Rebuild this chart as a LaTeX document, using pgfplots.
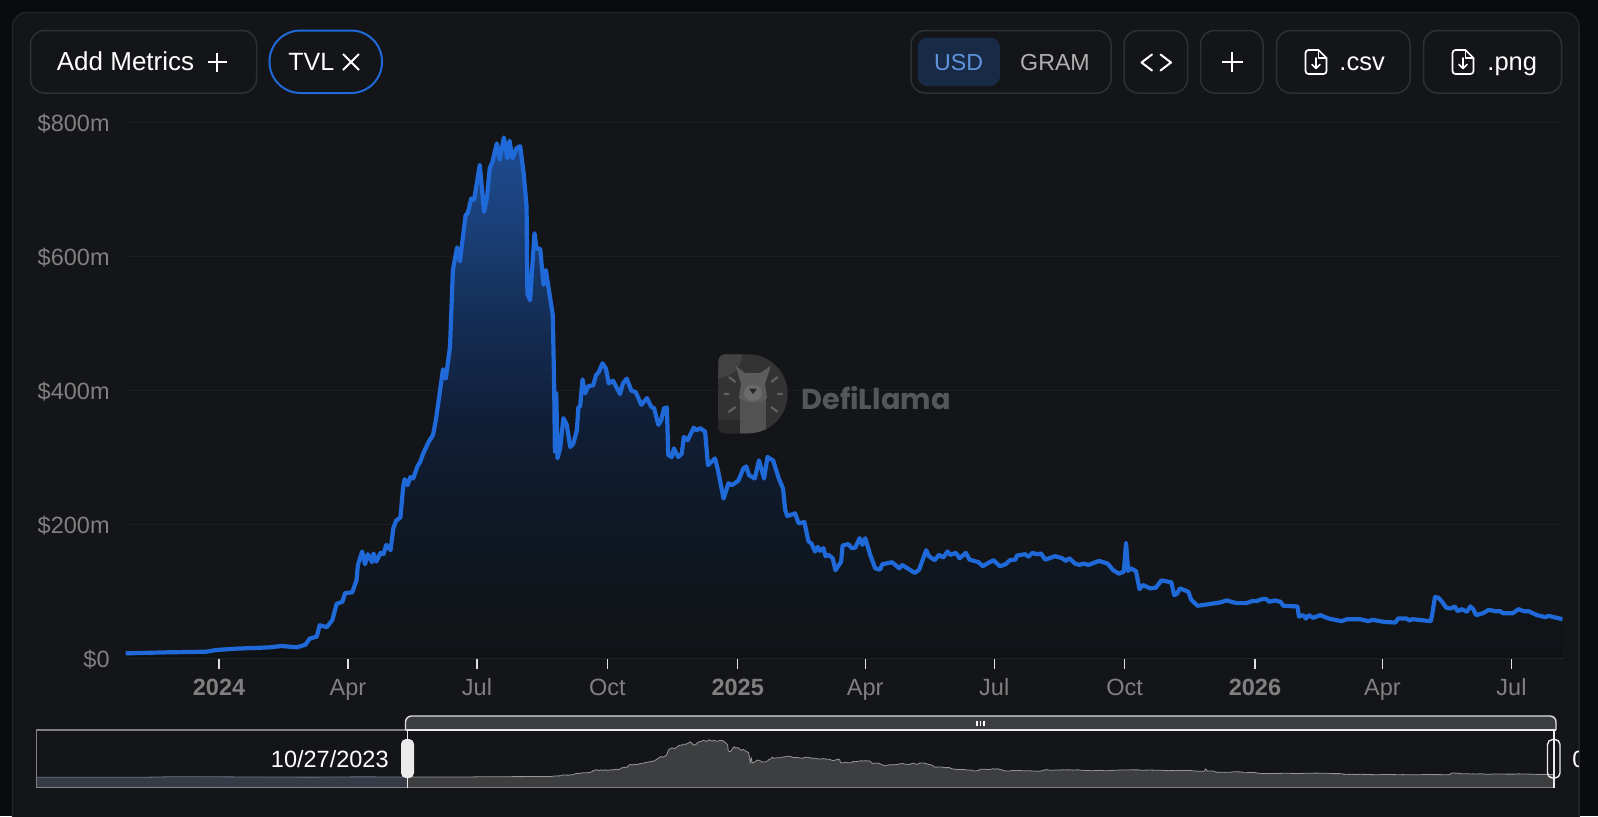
\documentclass[border=0pt]{standalone}
\usepackage{fontspec}
\setmainfont{Liberation Sans}
\newfontfamily\logofont{Poppins}
\usepackage{pgfplots}
\usepackage{pgfplotstable}
\pgfplotsset{compat=1.18}

\definecolor{outerbg}{HTML}{0A0B0E}
\definecolor{cardbg}{HTML}{141518}
\definecolor{cardedge}{HTML}{222326}
\definecolor{btnedge}{HTML}{2F3033}
\definecolor{tvlblue}{HTML}{1F69D8}
\definecolor{gridc}{HTML}{1C1D20}
\definecolor{axisc}{HTML}{3C3D40}
\definecolor{labelc}{HTML}{808080}
\definecolor{usdfill}{HTML}{182A45}
\definecolor{usdtext}{HTML}{5F95DD}
\definecolor{gramtext}{HTML}{B0B0B0}
\definecolor{logotext}{HTML}{555658}
\definecolor{slidepre}{HTML}{363B45}
\definecolor{slidepreline}{HTML}{6C768C}
\definecolor{slidefill}{HTML}{3D3E40}
\definecolor{slideline}{HTML}{969696}
\definecolor{slidebar}{HTML}{3C3D40}

\definecolor{f0}{HTML}{1D4C92}
\definecolor{f1}{HTML}{1A4079}
\definecolor{f2}{HTML}{142D55}
\definecolor{f3}{HTML}{101F37}
\definecolor{f4}{HTML}{0F1928}
\definecolor{f5}{HTML}{101418}
\definecolor{f6}{HTML}{101316}
\pgfdeclareverticalshading{tvlfade}{100bp}{color(0bp)=(f6); color(25bp)=(f6); color(28.75bp)=(f5); color(40bp)=(f4); color(48bp)=(f3); color(57.5bp)=(f2); color(67bp)=(f1); color(75bp)=(f0); color(100bp)=(f0)}

% d = days since 1 Jan 2024, v = TVL in $m
\pgfplotstableread{
d v
-66 8
-37 9.5
-9 10.5
-2 13
12 15
24 16
36 17
44 19
55 17
61 21
64 30
69 33
71 50
76 47
80 58
83 82
87 85
89 98
94 99
97 117
98 140
101 160
103 141
105 156
108 144
109 157
111 145
114 158
116 156
118 170
121 162
123 195
125 206
128 211
130 258
131 268
133 259
135 271
137 269
140 287
142 294
144 306
148 324
151 334
153 356
157 416
158 432
160 418
163 466
165 580
168 614
170 593
174 662
175.5 665
178 687
180 685
184 737
187 667
189 687
191 732
193 742
196 769
198 745
201 778
203.5 747
205 773
207 747
210 762
212.5 765
215 724
217 675
217.6 545
219.5 535
222.6 635
224 612
226.6 612
229 558
230.6 580
235.5 513
236.5 406
237 309
238 396
238.8 299
240.7 314
243 359
245.4 349
247.8 316
250 321
252.5 341
253.6 376
254.8 376
256.5 417
258.3 396
260.7 407
264 408
266 423
268 428
270.6 441
273 433
275 411
278 415
280 407
283 395
285 411
287.7 418
291 400
294 398
298 379
302 389
305 376
307 374
310 349
312 356
314 374
316 375
317 304
319.5 301
321 314
324 301
326.5 306
328 331
330.6 326
335 345
337 341
339.5 344
343 339
345 289
350 299
352 282
356 239
359.5 262
362 259
366.5 266
370 284
372 287
374 274
378 269
381 296
384.6 269
387 301
391 296
395 269
398 254
399.5 222
401 213
406.5 217
409 202
413 204
416 175
418 172
420.6 160
422.5 167
424 161
426.5 165
428 153
430 155
433 150
435 132
439 145
440 169
444 171
446.5 165
449 166
452 180
454 170
456 180
459.5 155
463 135
466.5 133
468 141
475 144
480 135
482 140
491 128
494 133
499 162
501 153
505 147
508 155
511 151
514 160
516 155
520 158
522.5 150
527 158
529.5 148
536 144
539 138
542 142
546.5 147
551 138
555 141
558 147
562 148
563 154
569 156
571 152
574 158
577 156
580 157
583 148
590 153
595 150
597.5 146
600 150
604 142
607 140
610 142
613.5 140
621 146
627 142
631 132
635 127
638.5 130
640 173
641.5 131
643 135
647 131
649.5 104
652 110
657 105
661 106
665 117
672 114
674 95
676 97
678 105
684 100
686 88
690.5 79
697 81
706.5 84
711 87
718 83
725 83
729 86
732 86
736 89
739 89
741 85
745 87
749 85
751 79
761 78
762 63
765 65
767 60
769 65
772 61
777 65
783 60
792 56
796 59
805 59
811 56
814 58
822 55
830 54
832 60
838 60
840 57
842 59
855 56
856 65
858 92
860.5 91
863 85
866 76
869 75
872 78
874 71
877 74
880.5 70
883 78
885 74
887 65
892 68
896 73
900.5 71
904 71
906 68
913 68
917 74
920.5 71
924 71
930 65
936 62
938 64
948 59
}\tvl

% stretch left of the zoom window, only seen in the slider
\pgfplotstableread{
d v
-394 2
-340 3
-300 3.5
-270 16
-200 9
-150 6
-110 12
-80 10
-66 8
}\before

\newcommand{\btn}[4]{\draw[btnedge,line width=.75pt,rounded corners=7pt] (#1,#2) rectangle (#3,#4);}
\newcommand{\fileicon}[1]{%
  \begin{scope}[shift={(#1,0)},white,line width=.85pt,line join=round,line cap=round]
    \draw (0,62) -- (0,53) arc[start angle=180,end angle=270,radius=3] -- (13,50) -- (21,58) -- (21,71) arc[start angle=0,end angle=90,radius=3] -- (3,74) arc[start angle=90,end angle=180,radius=3] -- cycle;
    \draw (13,50) -- (13,58) -- (21,58);
    \draw (10.5,58) -- (10.5,68) (6.5,64.5) -- (10.5,68.5) -- (14.5,64.5);
  \end{scope}}

\begin{document}
\begin{tikzpicture}
\path[use as bounding box] (0,-408pt) rectangle (799pt,0pt);
\fill[outerbg] (0,-408pt) rectangle (799pt,0pt);

\begin{scope}[x=0.5pt,y=-0.5pt]
  \filldraw[fill=cardbg,draw=cardedge,line width=.75pt,rounded corners=7pt] (12.5,12.5) rectangle (1579,860);

  % toolbar
  \btn{30.5}{30.5}{256.5}{93}
  \node[anchor=base west,inner sep=0pt,white,font=\fontsize{13pt}{15pt}\selectfont] at (56.5,70.5) {Add Metrics};
  \draw[white,line width=1pt] (207.5,62) -- (226.5,62) (217,52.5) -- (217,71.5);
  \draw[tvlblue,line width=1pt,rounded corners=15.5pt] (269.5,30.5) rectangle (382,93);
  \node[anchor=base west,inner sep=0pt,white,font=\fontsize{12.5pt}{15pt}\selectfont] at (288,70.5) {TVL};
  \draw[white,line width=1pt] (343,54) -- (359,70) (343,70) -- (359,54);
  \btn{911}{30.5}{1111}{93}
  \fill[usdfill,rounded corners=5pt] (917.5,37.5) rectangle (1000,86);
  \node[anchor=base,inner sep=0pt,font=\fontsize{11.6pt}{15pt}\selectfont,text=usdtext] at (958.5,70.5) {USD};
  \node[anchor=base,inner sep=0pt,font=\fontsize{11.6pt}{15pt}\selectfont,text=gramtext] at (1055,70.5) {GRAM};
  \btn{1124}{30.5}{1187.5}{93}
  \draw[white,line width=1pt,line join=round,line cap=round] (1152,54.5) -- (1141.5,62.5) -- (1152,70.5) (1160.5,54.5) -- (1171,62.5) -- (1160.5,70.5);
  \btn{1200.5}{30.5}{1263}{93}
  \draw[white,line width=1pt] (1221.5,62) -- (1242.5,62) (1232,52) -- (1232,72);
  \btn{1276.5}{30.5}{1410}{93}
  \fileicon{1305.5}
  \node[anchor=base west,inner sep=0pt,white,font=\fontsize{12.75pt}{15pt}\selectfont] at (1339,70.5) {.csv};
  \btn{1423.5}{30.5}{1561.5}{93}
  \fileicon{1452.5}
  \node[anchor=base west,inner sep=0pt,white,font=\fontsize{12.75pt}{15pt}\selectfont] at (1487,70.5) {.png};
\end{scope}

% main chart
\begin{axis}[
  at={(62.75pt,-329.35pt)},anchor=south west,
  scale only axis,width=718.5pt,height=268pt,
  xmin=-66,xmax=948,ymin=0,ymax=800,
  axis x line*=bottom,axis y line*=left,
  x axis line style={draw=axisc,line width=.75pt,-},
  y axis line style={draw=none},
  ymajorgrids,grid style={draw=gridc,line width=.6pt},
  ytick={0,200,400,600,800},
  yticklabels={\$0,\$200m,\$400m,\$600m,\$800m},
  xtick={0,91,182,274,366,456,547,639,731,821,912},
  xticklabels={\textbf{2024},Apr,Jul,Oct,\textbf{2025},Apr,Jul,Oct,\textbf{2026},Apr,Jul},
  tick align=outside,major tick length=5pt,
  xtick style={draw=white!88!black,line width=.6pt},
  ytick style={draw=none},
  tick label style={text=labelc,font=\fontsize{11.75pt}{14pt}\selectfont,inner sep=0pt},
  yticklabel style={anchor=east,xshift=-2.75pt,yshift=-.5pt},
  xticklabel style={anchor=base,yshift=-13.25pt},
]
\addplot[draw=none,shading=tvlfade] table[x=d,y=v] {\tvl} \closedcycle;
\addplot[tvlblue,line width=2.1pt,line join=round,no markers] table[x=d,y=v] {\tvl};
\end{axis}

% watermark, over the grid
\begin{scope}[x=0.5pt,y=-0.5pt]
  \begin{scope}
    \path[clip] (725,354.3) -- (748.2,354.3) arc[start angle=-90,end angle=90,radius=39.5] -- (725,433.3) arc[start angle=90,end angle=180,radius=7] -- (718.3,361.3) arc[start angle=180,end angle=270,radius=7] -- cycle;
    \fill[black!80!white] (700,340) rectangle (800,440);
    \fill[black!74!white] (718,354) circle[radius=24];
    \fill[black!84!white] (700,420) rectangle (740,440);
    \fill[black!68!white] (740,392) rectangle (766,440);
  \end{scope}
  \fill[black!64!white] (735.7,366) -- (745,373) -- (760,373) -- (770.7,366) -- (765,384) -- (767,398) -- (760,402) -- (746,402) -- (739,398) -- (741,384) -- cycle;
  \fill[black!58!white] (753,393) ellipse[x radius=9,y radius=8];
  \fill[black!85!white] (749,388.5) -- (757,388.5) -- (753,394) -- cycle;
  \draw[black!62!white,line width=1.1pt,line cap=round] (729.3,377.3) -- (735,381.7) (724.5,394) -- (728.5,394) (729,411.7) -- (735,407.3) (771.7,381.7) -- (777.3,377.3) (777.7,394) -- (782,394) (771.7,407.3) -- (777.3,411.7);
  \node[anchor=west,inner sep=0pt,text=logotext,font=\logofont\bfseries\fontsize{14.4pt}{16pt}\selectfont] at (801,398) {DefiLlama};
\end{scope}

% slider
\begin{axis}[
  at={(18.35pt,-393.85pt)},anchor=south west,
  scale only axis,width=758.55pt,height=28.85pt,
  xmin=-394.3,xmax=948,ymin=0,ymax=1194,
  hide axis,clip=true,
]
\addplot[draw=none,fill=slidepre] table[x=d,y expr=\thisrow{v}+213] {\before} \closedcycle;
\addplot[draw=none,fill=slidefill] table[x=d,y expr=\thisrow{v}+213] {\tvl} \closedcycle;
\addplot[slidepreline,line width=.4pt,no markers] table[x=d,y expr=\thisrow{v}+213] {\before};
\addplot[slideline,line width=.4pt,no markers] table[x=d,y expr=\thisrow{v}+213] {\tvl};
\end{axis}

\begin{scope}[x=0.5pt,y=-0.5pt]
  \draw[black!50!white,line width=.7pt] (36.7,730) rectangle (1553.8,787.7);
  \draw[white!88!black,line width=.7pt,fill=slidebar,rounded corners=3pt] (405.5,730) -- (405.5,716) -- (1556,716) -- (1556,730);
  \draw[white!92!black,line width=.7pt] (405.5,730) -- (1556,730);
  \draw[white!92!black,line width=.7pt] (407.6,730) -- (407.6,788) (1553.8,730) -- (1553.8,788);
  \draw[white,line width=.6pt] (977,720.5) -- (977,725.5) (980.5,720.5) -- (980.5,725.5) (984,720.5) -- (984,725.5);
  \fill[white!92!black,rounded corners=2.5pt] (401,739) rectangle (414,778);
  \draw[white!92!black,line width=.7pt,rounded corners=2.5pt] (1547.5,739.5) rectangle (1560,778);
  \node[anchor=east,inner sep=0pt,white,font=\fontsize{11.75pt}{14pt}\selectfont] at (389,759) {10/27/2023};
  \begin{scope}
    \clip (1565,740) rectangle (1578,780);
    \node[anchor=west,inner sep=0pt,white,font=\fontsize{11.75pt}{14pt}\selectfont] at (1572,759) {0};
  \end{scope}
\end{scope}
\end{tikzpicture}
\end{document}
